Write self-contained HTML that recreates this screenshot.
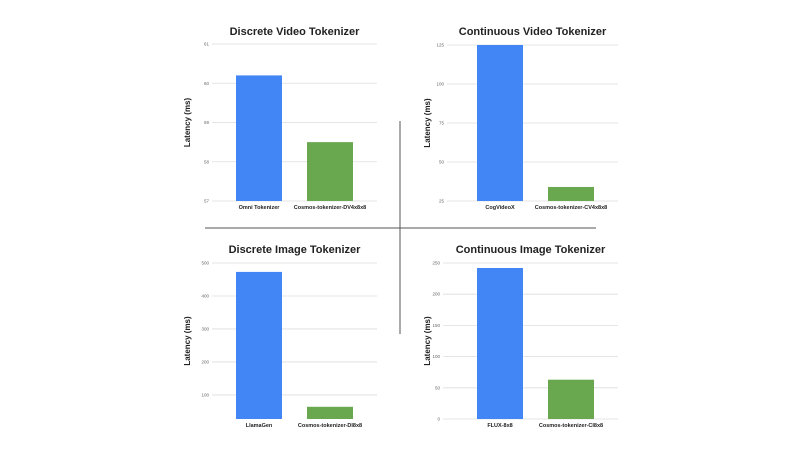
<!DOCTYPE html>
<html><head><meta charset="utf-8"><style>
body{margin:0;background:#fff;}
svg{display:block;font-family:"Liberation Sans",Arial,sans-serif;}
</style></head><body>
<svg id="c" width="800" height="450">
<line x1="400" y1="121" x2="400" y2="334" stroke="#555" stroke-width="1"/>
<line x1="205" y1="228" x2="596" y2="228" stroke="#555" stroke-width="1"/>
</svg>
<script>
const titles=["Discrete Video Tokenizer","Continuous Video Tokenizer","Discrete Image Tokenizer","Continuous Image Tokenizer"];
const categories=[["Omni Tokenizer","Cosmos-tokenizer-DV4x8x8"],["CogVideoX","Cosmos-tokenizer-CV4x8x8"],["LlamaGen","Cosmos-tokenizer-DI8x8"],["FLUX-8x8","Cosmos-tokenizer-CI8x8"]];
const values=[[60.2,58.5],[125,34],[473,64],[242,63]];
const ticks=[[57,58,59,60,61],[25,50,75,100,125],[100,200,300,400,500],[0,50,100,150,200,250]];
const axisMin=[57,25,27,0];
const axisMax=[61,125,500,250];
const layout=[
 {x0:212,x1:377,top:44,bot:201,ty:31,yt:187,b:[236,307]},
 {x0:447,x1:618,top:45,bot:201,ty:31,yt:427,b:[477,548]},
 {x0:212,x1:377,top:263,bot:419,ty:249,yt:187,b:[236,307]},
 {x0:443,x1:618,top:263,bot:419,ty:249,yt:427,b:[477,548]}];
const colors=["#4285f4","#6aa84f"];
const svg=document.getElementById('c');
const NS="http://www.w3.org/2000/svg";
function mk(t,a,p){const e=document.createElementNS(NS,t);for(const k in a)e.setAttribute(k,a[k]);(p||svg).appendChild(e);return e;}
for(let i=0;i<4;i++){
 const L=layout[i];
 const g=mk('g',{});
 
 
 const y=v=>L.bot-(v-axisMin[i])/(axisMax[i]-axisMin[i])*(L.bot-L.top);
 const tt=mk('text',{x:(L.x0+L.x1)/2,y:L.ty+4,'text-anchor':'middle','font-size':'11','font-weight':'bold',fill:'#222'},g);
 tt.textContent=titles[i];
 
 
 for(const t of ticks[i]){
  const gl=mk('line',{x1:L.x0,x2:L.x1,y1:y(t),y2:y(t),stroke:'#ddd','stroke-width':'0.8'},g);
  
  
  const tl=mk('text',{x:L.x0-3,y:y(t)+1.5,'text-anchor':'end','font-size':'4.5',fill:'#666'},g);
  tl.textContent=t;
  
  
 }
 const yl=mk('text',{x:0,y:0,transform:`translate(${L.yt+3},${(L.top+L.bot)/2}) rotate(-90)`,'text-anchor':'middle','font-size':'8','font-weight':'bold',fill:'#222'},g);
 yl.textContent='Latency (ms)';
 
 
 for(let j=0;j<2;j++){
  const bx=L.b[j],w=46,top=y(values[i][j]);
  const r=mk('rect',{x:bx,y:top,width:w,height:L.bot-top,fill:colors[j]},g);
  
  
  const cl=mk('text',{x:bx+w/2,y:L.bot+8,'text-anchor':'middle','font-size':'5.5','font-weight':'bold',fill:'#222'},g);
  cl.textContent=categories[i][j];
  
  
 }
}
</script>
</body></html>
